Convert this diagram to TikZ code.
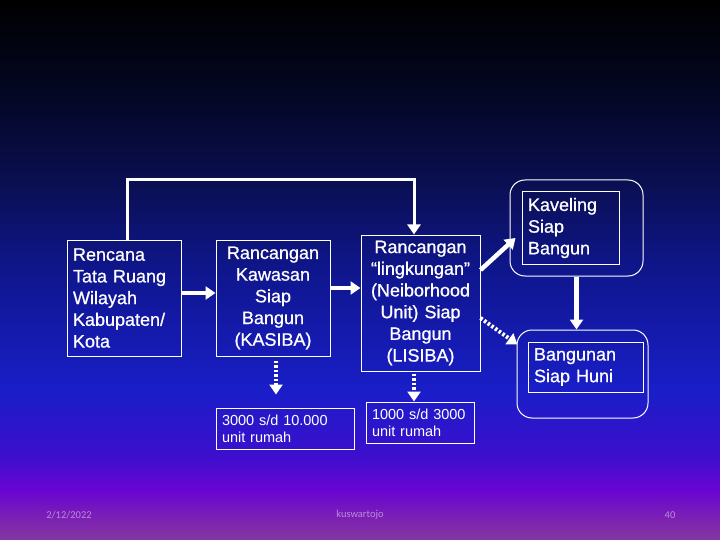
\documentclass[tikz,border=0pt]{standalone}
\usepackage{fontspec}
\setmainfont{Liberation Sans}[FakeBold=0.8]
\newfontfamily\plainfont{Liberation Sans}
\newfontfamily\footfont{Carlito}
\usetikzlibrary{arrows.meta}
\definecolor{s0}{RGB}{130,55,160}
\definecolor{s1}{RGB}{125,35,178}
\definecolor{s2}{RGB}{105,5,210}
\definecolor{s3}{RGB}{60,15,205}
\definecolor{s4}{RGB}{25,30,200}
\definecolor{s5}{RGB}{15,22,140}
\definecolor{s6}{RGB}{10,15,80}
\definecolor{s7}{RGB}{4,7,38}
\definecolor{s8}{RGB}{0,0,0}
\definecolor{foot}{RGB}{185,140,215}
\pgfdeclareverticalshading{bgshade}{100bp}{color(0bp)=(s0); color(25bp)=(s0); color(26.85bp)=(s1); color(29.63bp)=(s2); color(32.87bp)=(s3); color(38.89bp)=(s4); color(50bp)=(s5); color(58.33bp)=(s6); color(65.74bp)=(s7); color(75bp)=(s8); color(100bp)=(s8)}
\tikzset{
  box/.style={draw=white, line width=1pt, text=white, inner xsep=6pt, inner ysep=0pt},
  big/.style={font=\fontsize{18}{21.7}\selectfont},
  small/.style={font=\plainfont\fontsize{14.5}{17}\selectfont},
  rbox/.style={draw=white, line width=1pt, rounded corners=15pt, inner sep=0pt},
  arr/.style={draw=white, line width=4.5pt, -{Triangle[width=13pt,length=10pt]}},
  dotarr/.style={draw=white, line width=4pt, dash pattern=on 2.5pt off 2pt, -{Triangle[width=13pt,length=10pt]}},
  footer/.style={text=foot, font=\footfont\fontsize{10.5}{12}\selectfont}
}
\begin{document}
\begin{tikzpicture}[x=1pt,y=-1pt]
\useasboundingbox (0,0) rectangle (720,540);
\fill[shading=bgshade] (0,0) rectangle (720,540);

% main boxes
\node[box, big, align=left, text width=102pt, minimum width=114pt, minimum height=116pt] (b1) at (124,298)
  {Rencana\\Tata Ruang\\Wilayah\\Kabupaten/\\Kota};
\node[box, big, align=center, text width=102pt, minimum width=114pt, minimum height=116pt] (b2) at (273,298)
  {Rancangan\\Kawasan\\Siap\\Bangun\\(KASIBA)};
\node[box, big, align=center, text width=107pt, minimum width=119pt, minimum height=136pt] (b3) at (420.5,303)
  {Rancangan\\“lingkungan”\\(Neiborhood\\Unit) Siap\\Bangun\\(LISIBA)};

% rounded groups
\node[rbox, minimum width=133pt, minimum height=96pt] (kavo) at (576.5,228) {};
\node[box, big, align=left, text width=85pt, minimum width=97pt, minimum height=72pt] (kav) at (570.5,228)
  {Kaveling\\Siap\\Bangun};
\node[rbox, minimum width=131pt, minimum height=88pt] (bano) at (582.5,374) {};
\node[box, big, align=left, text width=103pt, minimum width=115pt, minimum height=50pt] (ban) at (585.5,367)
  {Bangunan\\Siap Huni};

% small boxes
\node[box, small, align=left, text width=126pt, minimum width=138pt, minimum height=41pt] (b4) at (285,428.5)
  {3000 s/d 10.000\\unit rumah};
\node[box, small, align=left, text width=96pt, minimum width=108pt, minimum height=41pt] (b5) at (420,422.5)
  {1000 s/d 3000\\unit rumah};

% connectors
\coordinate (d3s) at ([shift={(-6.5pt,-2pt)}]b3.south);
\draw[arr] (b1.east |- 0,293) -- (b2.west |- 0,293);
\draw[arr] (b2.east |- 0,288) -- (b3.west |- 0,288);
\draw[white, line width=3pt, -{Triangle[width=13pt,length=10pt]}]
  ([xshift=3pt]b1.north) |- ([xshift=-6.5pt]b3.north |- 0,180) -- ([xshift=-6.5pt]b3.north);
\draw[arr] ([yshift=33pt]b3.east) -- ([shift={(6pt,-10pt)}]kavo.west);
\draw[dotarr] ([yshift=-15pt]b3.east) -- ([shift={(1pt,-15pt)}]bano.north west);
\draw[arr] (kavo.south) -- (kavo.south |- bano.north);
\draw[dotarr] ([shift={(3pt,-4pt)}]b2.south) -- ([xshift=-9pt,yshift=13pt]b4.north);
\draw[dotarr] (d3s) -- (d3s |- b5.north);

% footer
\node[footer] (date) at (69,515) {2/12/2022};
\node[footer] (auth) at (360,515) {kuswartojo};
\node[footer] (num) at (670,515) {40};
\end{tikzpicture}
\end{document}
